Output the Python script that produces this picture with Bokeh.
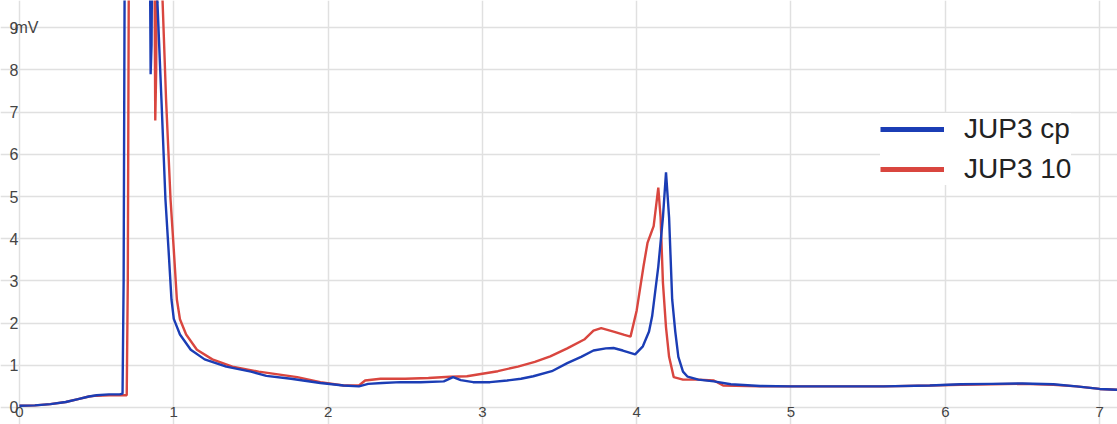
from bokeh.plotting import figure
from bokeh.models import FixedTicker, Legend, LegendItem, Label, Range1d
from bokeh.embed import file_html
from bokeh.resources import INLINE

series_names = ["JUP3 cp", "JUP3 10"]
x_ticks = [0, 1, 2, 3, 4, 5, 6, 7]
y_ticks = [0, 1, 2, 3, 4, 5, 6, 7, 8, 9]
y_unit = "mV"

blue_x = [0.0, 0.1, 0.2, 0.3, 0.38, 0.45, 0.5, 0.58, 0.65, 0.668, 0.675, 0.685, 0.76, 0.84, 0.85, 0.856,
          0.865, 0.88, 0.894, 0.92, 0.946, 0.966, 0.985, 1.0, 1.04, 1.11, 1.2, 1.34, 1.5, 1.6, 1.76, 1.95,
          2.1, 2.2, 2.26, 2.35, 2.47, 2.6, 2.75, 2.81, 2.86, 2.94, 3.05, 3.16, 3.25, 3.33, 3.45, 3.55,
          3.64, 3.72, 3.8, 3.85, 3.91, 3.99, 4.04, 4.08, 4.1, 4.14, 4.17, 4.19, 4.21, 4.23, 4.25, 4.27,
          4.3, 4.33, 4.4, 4.5, 4.61, 4.8, 5.0, 5.3, 5.6, 5.9, 6.1, 6.3, 6.5, 6.7, 6.85, 7.0, 7.12]
blue_y = [0.04, 0.05, 0.08, 0.13, 0.2, 0.26, 0.29, 0.31, 0.31, 0.33, 3.0, 14, 14, 14, 7.9, 8.6,
          14, 14, 9.6, 7.3, 4.93, 3.74, 2.56, 2.1, 1.73, 1.37, 1.14, 0.97, 0.85, 0.75, 0.68, 0.58,
          0.52, 0.5, 0.56, 0.58, 0.6, 0.6, 0.62, 0.72, 0.65, 0.6, 0.6, 0.64, 0.68, 0.74, 0.86, 1.05,
          1.2, 1.35, 1.4, 1.41, 1.35, 1.26, 1.45, 1.8, 2.16, 3.34, 4.5, 5.57, 4.5, 2.56, 1.8, 1.2,
          0.85, 0.73, 0.66, 0.62, 0.55, 0.51, 0.5, 0.5, 0.5, 0.52, 0.55, 0.56, 0.57, 0.55, 0.5, 0.44, 0.42]

red_x = [0.0, 0.1, 0.2, 0.3, 0.38, 0.45, 0.5, 0.58, 0.65, 0.695, 0.702, 0.712, 0.78, 0.87, 0.88, 0.886,
         0.895, 0.91, 0.927, 0.95, 0.979, 1.0, 1.02, 1.04, 1.08, 1.15, 1.25, 1.38, 1.55, 1.8, 1.95, 2.1,
         2.2, 2.24, 2.34, 2.5, 2.65, 2.79, 2.9, 3.0, 3.1, 3.23, 3.34, 3.44, 3.55, 3.66, 3.72, 3.77,
         3.85, 3.92, 3.96, 4.0, 4.044, 4.07, 4.09, 4.11, 4.14, 4.155, 4.17, 4.19, 4.21, 4.24, 4.3, 4.4,
         4.5, 4.56, 4.8, 5.0, 5.3, 5.6, 5.9, 6.1, 6.3, 6.5, 6.7, 6.85, 7.0, 7.12]
red_y = [0.04, 0.05, 0.08, 0.13, 0.2, 0.26, 0.28, 0.29, 0.29, 0.29, 3.0, 14, 14, 14, 6.8, 8.0,
         14, 14, 9.67, 7.3, 4.93, 3.74, 2.56, 2.09, 1.73, 1.37, 1.14, 0.97, 0.85, 0.72, 0.6, 0.52,
         0.52, 0.64, 0.68, 0.68, 0.7, 0.73, 0.74, 0.8, 0.86, 0.97, 1.08, 1.21, 1.4, 1.61, 1.82, 1.88,
         1.8, 1.72, 1.68, 2.3, 3.34, 3.9, 4.1, 4.3, 5.21, 4.5, 2.96, 1.9, 1.2, 0.72, 0.66, 0.66,
         0.64, 0.52, 0.5, 0.5, 0.5, 0.5, 0.52, 0.54, 0.55, 0.56, 0.54, 0.5, 0.44, 0.42]

BLUE = "#1b3db5"
RED = "#d9463f"
TICK_COLOR = "#444444"
FONT = "Liberation Sans"

p = figure(width=1117, height=424,
           x_range=Range1d(-0.123, 7.116), y_range=Range1d(-0.403, 9.645),
           output_backend="svg", toolbar_location=None, min_border=0)
p.outline_line_color = None
p.background_fill_color = "white"
p.border_fill_color = "white"

for ax, ticks in ((p.xaxis, x_ticks), (p.yaxis, y_ticks)):
    ax.ticker = FixedTicker(ticks=ticks)
    ax.fixed_location = 0
    ax.axis_line_color = None
    ax.major_tick_line_color = None
    ax.minor_tick_line_color = None
    ax.major_tick_out = 0
    ax.major_tick_in = 0
    ax.minor_tick_out = 0
    ax.minor_tick_in = 0
    ax.major_label_text_font = FONT
    ax.major_label_text_color = TICK_COLOR
p.xaxis.major_label_text_font_size = "15px"
p.yaxis.major_label_text_font_size = "16px"
p.xaxis.major_label_standoff = 0
p.yaxis.major_label_standoff = 1

p.grid.grid_line_color = "#e0e0e0"
p.grid.grid_line_width = 1.5

p.line(red_x, red_y, line_color=RED, line_width=2.4)
p.line(blue_x, blue_y, line_color=BLUE, line_width=2.4)

nan = float("nan")
lb = p.line(x=[nan], y=[nan], line_color=BLUE, line_width=5)
lr = p.line(x=[nan], y=[nan], line_color=RED, line_width=5)

legend = Legend(items=[LegendItem(label=series_names[0], renderers=[lb]),
                       LegendItem(label=series_names[1], renderers=[lr])],
                location=(880, 239), border_line_color=None,
                background_fill_color="white", background_fill_alpha=1.0,
                padding=12, spacing=8, glyph_width=64, glyph_height=30,
                label_height=30, label_standoff=20, margin=0,
                label_text_font=FONT, label_text_font_size="28px",
                label_text_color="#222222")
p.add_layout(legend)

p.add_layout(Label(x=-0.033, y=9, text=y_unit, text_baseline="middle",
                   text_font=FONT, text_font_size="16px", text_color=TICK_COLOR))

open("out.html", "w").write(file_html(p, INLINE))
